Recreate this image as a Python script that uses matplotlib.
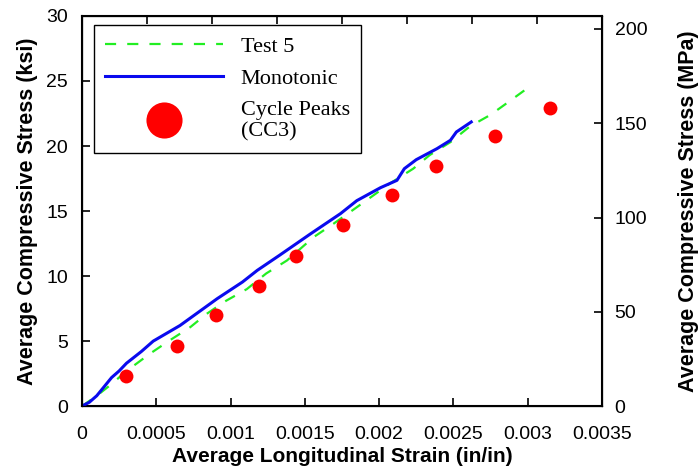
import numpy as np
import matplotlib
matplotlib.use('Agg')
from matplotlib import pyplot as plt
from matplotlib.lines import Line2D

# Test 5 (green dashed)
test5_strain = [0, 0.0001, 0.0002, 0.0003, 0.00046, 0.00059, 0.00073, 0.00084, 0.00097, 0.00111,
                0.00124, 0.00138, 0.00156, 0.00169, 0.00182, 0.00201, 0.00207, 0.00223, 0.00234,
                0.00248, 0.00261, 0.00275, 0.00286, 0.00300]
test5_stress = [0, 0.8, 1.7, 2.7, 4.05, 5.05, 6.08, 7.1, 8.1, 9.0,
                10.2, 11.2, 13.0, 14.0, 15.05, 16.6, 17.1, 18.26, 19.3,
                20.3, 21.5, 22.4, 23.3, 24.46]

# Monotonic (blue)
mono_strain = [0, 0.00005, 0.0001, 0.00015, 0.0002, 0.00025, 0.0003, 0.0004, 0.00048, 0.00066,
               0.00091, 0.00108, 0.00118, 0.00133, 0.00154, 0.00174, 0.00185, 0.00201, 0.00212,
               0.00217, 0.00225, 0.00239, 0.00248, 0.00252, 0.00262]
mono_stress = [0, 0.3, 0.8, 1.5, 2.2, 2.7, 3.3, 4.2, 5.0, 6.2,
               8.26, 9.54, 10.44, 11.6, 13.26, 14.8, 15.8, 16.8, 17.36,
               18.26, 18.95, 19.8, 20.44, 21.08, 21.85]

# Cycle peaks CC3 (red dots)
peak_strain = [0.0003, 0.00064, 0.0009, 0.00119, 0.00144, 0.00176, 0.00209, 0.00238, 0.00278, 0.00315]
peak_stress = [2.28, 4.62, 6.98, 9.23, 11.54, 13.9, 16.2, 18.5, 20.8, 22.95]

x_ticks = [0, 0.0005, 0.001, 0.0015, 0.002, 0.0025, 0.003, 0.0035]
x_tick_labels = ['0', '0.0005', '0.001', '0.0015', '0.002', '0.0025', '0.003', '0.0035']
ksi_ticks = [0, 5, 10, 15, 20, 25, 30]
mpa_ticks = [0, 50, 100, 150, 200]
KSI_TO_MPA = 6.895

plt.rcParams['font.family'] = ['Liberation Sans', 'DejaVu Sans']

fig = plt.figure(figsize=(7, 4.69), dpi=100)
ax = fig.add_axes([0.117, 0.134, 0.743, 0.832])

ax.plot(test5_strain, test5_stress, color='#22ee22', lw=1.6, ls=(0, (5, 5)), zorder=3)
ax.plot(mono_strain, mono_stress, color='#0a0aee', lw=2.2, zorder=4)
ax.plot(peak_strain, peak_stress, 'o', color='#ff0000', ms=10, mec='none', zorder=5)

ax.set_xlim(0, 0.0035)
ax.set_ylim(0, 30)
ax.set_xticks(x_ticks)
ax.set_xticklabels(x_tick_labels)
ax.set_yticks(ksi_ticks)
ax.tick_params(direction='in', length=6, width=1.2, labelsize=14)
ax.tick_params(axis='x', pad=14)
ax.tick_params(axis='y', pad=10)
for s in ax.spines.values():
    s.set_linewidth(1.5)

ax.set_xlabel('Average Longitudinal Strain (in/in)', fontsize=15, fontweight='bold', labelpad=3)
ax.set_ylabel('Average Compressive Stress (ksi)', fontsize=15.5, fontweight='bold', labelpad=6)

# right axis in MPa
ax2 = ax.twinx()
ax2.set_ylim(0, 30 * KSI_TO_MPA)
ax2.set_yticks(mpa_ticks)
ax2.tick_params(direction='in', length=6, width=1.2, labelsize=14, pad=9)
ax2.set_ylabel('Average Compressive Stress (MPa)', fontsize=15.5, fontweight='bold', labelpad=22)

# top ticks without labels
ax3 = ax.twiny()
ax3.set_xlim(0, 0.0035)
ax3.set_xticks(np.linspace(0, 0.0035, 9))
ax3.set_xticklabels([])
ax3.tick_params(direction='in', length=6, width=1.2)

handles = [Line2D([], [], color='#22ee22', lw=1.6, ls=(0, (5, 5))),
           Line2D([], [], color='#0a0aee', lw=2.2),
           Line2D([], [], ls='none', marker='o', color='#ff0000', ms=26, mec='none')]
leg = ax.legend(handles, ['Test 5', 'Monotonic', 'Cycle Peaks\n(CC3)'],
                loc='upper left', bbox_to_anchor=(0.023, 0.977), borderaxespad=0,
                fancybox=False, edgecolor='black', framealpha=1,
                handlelength=5.3, handletextpad=0.8, borderpad=0.5, labelspacing=0.53,
                prop={'family': 'Liberation Serif', 'size': 16})
leg.get_frame().set_linewidth(1.0)

fig.savefig('out.png', dpi=100)
